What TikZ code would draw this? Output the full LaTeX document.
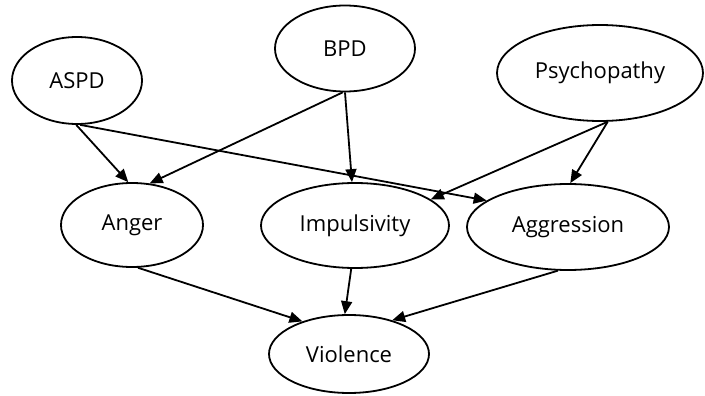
\documentclass[tikz,border=0pt]{standalone}
\usepackage{fontspec}
\setmainfont{Open Sans}
\usetikzlibrary{shapes.geometric,arrows.meta}
\begin{document}
\begin{tikzpicture}[x=1pt,y=-1pt,
  el/.style={draw,ellipse,line width=1.8pt,inner sep=0pt,font=\fontsize{22pt}{26pt}\selectfont},
  edge/.style={line width=1.8pt,-{Triangle[length=13pt,width=11pt]}}]
\useasboundingbox (0,0) rectangle (705,396);
\node[el,minimum width=130pt,minimum height=87pt] (aspd) at (77,80.5) {ASPD};
\node[el,minimum width=140pt,minimum height=86pt] (bpd) at (345,48.5) {BPD};
\node[el,minimum width=206pt,minimum height=96pt] (psy) at (600,73) {Psychopathy};
\node[el,minimum width=142pt,minimum height=84pt] (anger) at (132,225) {Anger};
\node[el,minimum width=188pt,minimum height=85pt] (imp) at (355,225.5) {Impulsivity};
\node[el,minimum width=202pt,minimum height=86pt] (aggr) at (568,227) {Aggression};
\node[el,minimum width=160pt,minimum height=78pt] (vio) at (349,354) {Violence};
\draw[edge] (aspd.-91) -- (anger.95);
\draw[edge] (aspd.-86) -- (aggr.162);
\draw[edge] (bpd.-93) -- (anger.67);
\draw[edge] (bpd.-90) -- (imp.94);
\draw[edge] (psy.-81) -- (imp.19);
\draw[edge] (psy.-81) -- (aggr.87);
\draw[edge] (anger.-82) -- (vio.145);
\draw[edge] (imp.-95) -- (vio.96);
\draw[edge] (aggr.-103) -- (vio.38);
\end{tikzpicture}
\end{document}
